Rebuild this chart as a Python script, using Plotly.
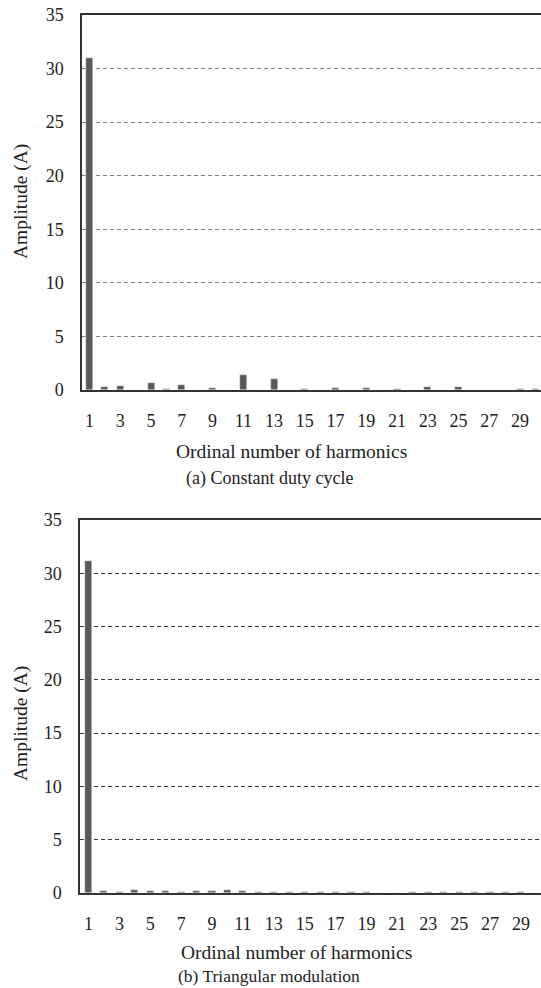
import plotly.graph_objects as go

harmonics = list(range(1, 31))
amp_constant = [31.0, 0.25, 0.4, 0.0, 0.7, 0.05, 0.45, 0.02, 0.18, 0.0,
                1.4, 0.0, 1.0, 0.0, 0.05, 0.0, 0.2, 0.0, 0.15, 0.0,
                0.05, 0.0, 0.3, 0.0, 0.25, 0.0, 0.0, 0.02, 0.05, 0.05]
amp_triangular = [31.2, 0.15, 0.05, 0.25, 0.2, 0.2, 0.1, 0.2, 0.2, 0.3,
                  0.2, 0.1, 0.12, 0.05, 0.05, 0.08, 0.06, 0.08, 0.08, 0.03,
                  0.03, 0.05, 0.08, 0.05, 0.05, 0.05, 0.05, 0.05, 0.05, 0.03]
xtick_vals = list(range(1, 30, 2))
xtick_text = [str(v) for v in xtick_vals]
ytick_vals = list(range(0, 36, 5))
xlabel = "Ordinal number of harmonics"
ylabel = "Amplitude (A)"
captions = ["(a) Constant duty cycle", "(b) Triangular modulation"]

W, H = 541, 988
FONT = "Liberation Serif"
BAR = "#595959"
TXT = "#222222"

fig = go.Figure()
fig.add_trace(go.Bar(x=harmonics, y=amp_constant, marker_color=BAR, width=0.46,
                     xaxis="x", yaxis="y", showlegend=False, hoverinfo="skip"))
fig.add_trace(go.Bar(x=harmonics, y=amp_triangular, marker_color=BAR, width=0.46,
                     xaxis="x2", yaxis="y2", showlegend=False, hoverinfo="skip"))

def px_y(p):
    return 1 - p / H

def xaxis(left, rng, anchor):
    return dict(domain=[left / W, 1.0], range=rng, anchor=anchor,
                tickvals=xtick_vals, ticktext=xtick_text,
                showgrid=False, zeroline=False, automargin=False,
                showline=True, linecolor="#333333", linewidth=1.5, mirror=True,
                ticks="", ticklabelstandoff=14,
                tickfont=dict(family=FONT, size=18, color=TXT))

def yaxis(top, bottom, anchor, gridcolor):
    return dict(domain=[px_y(bottom), px_y(top)], range=[0, 35], anchor=anchor,
                tickvals=ytick_vals, showgrid=True, gridcolor=gridcolor,
                griddash="4px,3px", gridwidth=1.2, zeroline=False, automargin=False,
                showline=True, linecolor="#333333", linewidth=1.5, mirror=False,
                ticks="", ticklabelstandoff=13,
                tickfont=dict(family=FONT, size=18, color=TXT))

fig.update_layout(
    width=W, height=H,
    margin=dict(l=0, r=0, t=0, b=0, pad=0),
    paper_bgcolor="white", plot_bgcolor="white",
    bargap=0,
    font=dict(family=FONT, color=TXT),
    xaxis=xaxis(82, [0.51, 30.36], "y"),
    yaxis=yaxis(15, 390, "x", "#808080"),
    xaxis2=xaxis(80, [0.45, 30.3], "y2"),
    yaxis2=yaxis(520, 893, "x2", "#3a3a3a"),
)

annos = [
    (291, 451, xlabel, 19.5, 0),
    (269, 478, captions[0], 18, 0),
    (296, 952, xlabel, 19.5, 0),
    (269, 976, captions[1], 17.5, 0),
    (21, 202, ylabel, 19.5, -90),
    (21, 724, ylabel, 19.5, -90),
]
for x, y, t, s, ang in annos:
    fig.add_annotation(x=x / W, y=px_y(y), xref="paper", yref="paper",
                       text=t, showarrow=False, textangle=ang,
                       xanchor="center", yanchor="middle",
                       font=dict(family=FONT, size=s, color=TXT))

fig.write_html(
    "out.html",
    config={"displayModeBar": False},
    post_script="document.body.style.margin='0';document.body.style.overflow='hidden';",
)
